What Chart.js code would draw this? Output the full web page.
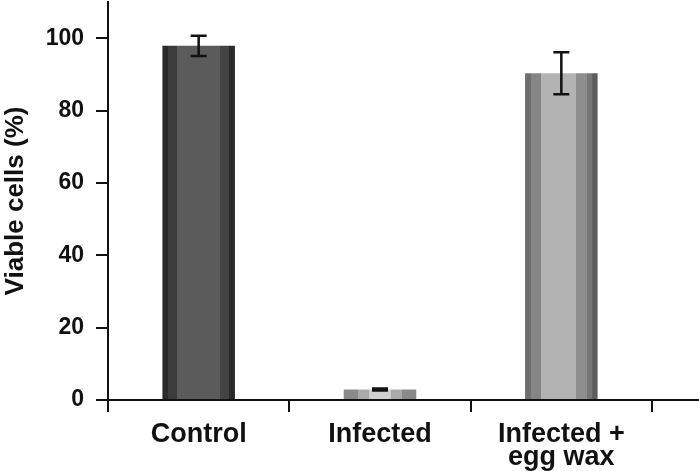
<!DOCTYPE html>
<html>
<head>
<meta charset="utf-8">
<script src="https://cdn.jsdelivr.net/npm/chart.js@4.4.1/dist/chart.umd.min.js"></script>
<style>
html,body{margin:0;padding:0;background:#fff;}
#wrap{width:699px;height:471px;position:relative;}
</style>
</head>
<body>
<div id="wrap"><canvas id="c" width="699" height="471"></canvas></div>
<script>
// ---- data ----
const categories = ["Control", "Infected", ["Infected +", "egg wax"]];
const viable = [97.9, 2.9, 90.3];
const errors = [2.8, 0.3, 5.8];
const yTicks = [0, 20, 40, 60, 80, 100];
const yMax = 110;

// ---- styles (stripe pattern for each bar) ----
const stripes = [
  [[0, '#2a2a2a'], [0.08, '#3c3c3c'], [0.2, '#5b5b5b'], [0.8, '#444444'], [0.92, '#2a2a2a']],
  [[0, '#8a8a8a'], [0.2, '#ababab'], [0.35, '#cfcfcf'], [0.65, '#ababab'], [0.8, '#8a8a8a']],
  [[0, '#6e6e6e'], [0.08, '#858585'], [0.22, '#b3b3b3'], [0.7, '#8e8e8e'], [0.85, '#767676'], [0.93, '#5c5c5c']]
];
const BAR_FRAC = 0.4;

function stripeFill(ctx) {
  const chart = ctx.chart;
  const area = chart.chartArea;
  if (!area || !chart.scales.x) return '#555';
  const xs = chart.scales.x;
  const cx = xs.getPixelForValue(ctx.dataIndex);
  const catW = (area.right - area.left) / categories.length;
  const w = catW * BAR_FRAC;
  const left = cx - w / 2;
  const g = chart.ctx.createLinearGradient(left, 0, left + w, 0);
  const s = stripes[ctx.dataIndex];
  for (let i = 0; i < s.length; i++) {
    const start = s[i][0];
    const end = i + 1 < s.length ? s[i + 1][0] : 1;
    g.addColorStop(start, s[i][1]);
    g.addColorStop(Math.max(start, end - 0.001), s[i][1]);
  }
  return g;
}

const errorBars = {
  id: 'errorBars',
  afterDatasetsDraw(chart) {
    const c = chart.ctx;
    const xs = chart.scales.x, ys = chart.scales.y;
    c.save();
    c.strokeStyle = '#111';
    c.lineWidth = 2.5;
    viable.forEach((v, i) => {
      const x = xs.getPixelForValue(i);
      const yt = ys.getPixelForValue(v + errors[i]);
      const yb = ys.getPixelForValue(v - errors[i]);
      const cap = 8;
      c.beginPath();
      c.moveTo(x, yt); c.lineTo(x, yb);
      c.moveTo(x - cap, yt); c.lineTo(x + cap, yt);
      c.moveTo(x - cap, yb); c.lineTo(x + cap, yb);
      c.stroke();
    });
    c.restore();
  }
};

const axisExtend = {
  id: 'axisExtend',
  afterDraw(chart) {
    const c = chart.ctx;
    const a = chart.chartArea;
    c.save();
    c.strokeStyle = '#111';
    c.lineWidth = 2;
    c.beginPath();
    c.moveTo(a.right, a.bottom);
    c.lineTo(chart.width, a.bottom);
    c.stroke();
    c.restore();
  }
};

new Chart(document.getElementById('c'), {
  type: 'bar',
  data: {
    labels: categories,
    datasets: [{
      data: viable,
      backgroundColor: stripeFill,
      borderWidth: 0,
      categoryPercentage: 1,
      barPercentage: BAR_FRAC
    }]
  },
  options: {
    responsive: false,
    animation: false,
    layout: { padding: { left: 0, right: 47, top: 2, bottom: 0 } },
    plugins: { legend: { display: false }, tooltip: { enabled: false } },
    scales: {
      x: {
        grid: { offset: true, drawOnChartArea: false, drawTicks: true, tickLength: 12, color: '#111', lineWidth: 2 },
        border: { color: '#111', width: 2 },
        ticks: {
          color: '#111', padding: 11, maxRotation: 0, autoSkip: false,
          font: { family: 'Liberation Sans, Arial, sans-serif', size: 27, weight: 'bold', lineHeight: 0.85 }
        },
        afterFit(s) { s.height = 71; s.paddingLeft = 0; s.paddingRight = 0; }
      },
      y: {
        min: 0, max: yMax,
        afterBuildTicks(s) { s.ticks = yTicks.map(v => ({ value: v })); },
        grid: { drawOnChartArea: false, drawTicks: true, tickLength: 12, color: '#111', lineWidth: 2 },
        border: { color: '#111', width: 2 },
        ticks: {
          color: '#111', padding: 12,
          font: { family: 'Liberation Sans, Arial, sans-serif', size: 23, weight: 'bold' }
        },
        title: {
          display: true, text: 'Viable cells (%)', color: '#111',
          padding: { top: 0, bottom: 0 },
          font: { family: 'Liberation Sans, Arial, sans-serif', size: 26, weight: 'bold' }
        },
        afterFit(s) { s.width = 108; s.paddingTop = 0; s.paddingBottom = 0; }
      }
    }
  },
  plugins: [errorBars, axisExtend]
});
</script>
</body>
</html>
